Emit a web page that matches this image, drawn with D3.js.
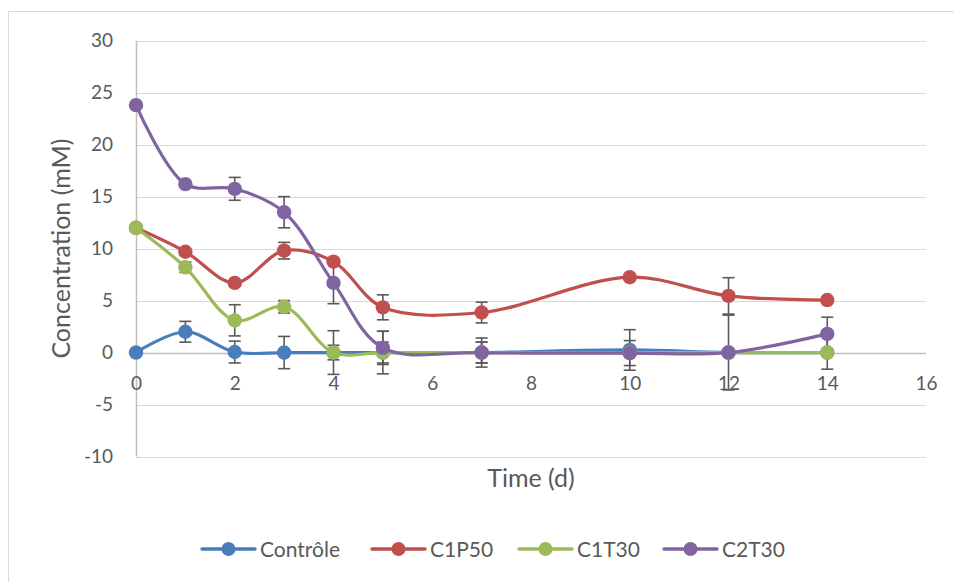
<!DOCTYPE html>
<html>
<head>
<meta charset="utf-8">
<script src="https://cdn.jsdelivr.net/npm/d3@7"></script>
<style>
  html, body { margin: 0; padding: 0; background: #fff; }
  svg { display: block; }
</style>
</head>
<body>
<svg id="chart" width="954" height="582"></svg>
<script>
// Sampling days (x) and measured concentrations (mM) with their error margins
const days = [0, 1, 2, 3, 4, 5, 7, 10, 12, 14];

const controle    = [0, 2.0, 0.05, 0.0, 0.0, 0.0, 0.0, 0.25, 0.0, 0.0];
const controleErr = [0, 1.0, 1.05, 1.55, 0.7, 1.0, 1.0, 1.95, 0, 0];

const c1p50    = [12.0, 9.7, 6.7, 9.8, 8.75, 4.35, 3.85, 7.25, 5.45, 5.05];
const c1p50Err = [0, 0, 0, 0.8, 0, 1.2, 1.0, 0, 1.75, 0];

const c1t30    = [12.0, 8.2, 3.1, 4.4, 0.0, 0.0, 0.0, 0.0, 0.0, 0.0];
const c1t30Err = [0, 0.5, 1.5, 0.6, 2.1, 2.05, 1.0, 0, 3.6, 1.6];

const c2t30    = [23.8, 16.2, 15.75, 13.5, 6.7, 0.45, 0.0, -0.05, 0.0, 1.8];
const c2t30Err = [0, 0, 1.1, 1.5, 2.0, 1.6, 1.4, 1.2, 0, 1.6];

const seriesNames  = ["Contrôle", "C1P50", "C1T30", "C2T30"];
const seriesColors = ["#4a7ebb", "#c0504d", "#9bbb59", "#8064a2"];
const seriesValues = [controle, c1p50, c1t30, c2t30];
const seriesErrors = [controleErr, c1p50Err, c1t30Err, c2t30Err];

const xTicks = [0, 2, 4, 6, 8, 10, 12, 14, 16];
const yTicks = [-10, -5, 0, 5, 10, 15, 20, 25, 30];

const xTitle = "Time (d)";
const yTitle = "Concentration (mM)";

const series = seriesNames.map((name, i) => ({
  name,
  color: seriesColors[i],
  points: days.map((d, j) => ({ x: d, y: seriesValues[i][j], e: seriesErrors[i][j] }))
}));

// Layout
const plot = { left: 136, right: 926, top: 40.7, bottom: 456.5 };
const font = "Lato, 'Open Sans', sans-serif";
const textColor = "#595959";
const plainNumber = d => String(d); // hyphen-minus, not U+2212

const svg = d3.select("#chart");

// Chart frame
svg.append("rect")
  .attr("x", 8.5).attr("y", 11.5)
  .attr("width", 960).attr("height", 600)
  .attr("fill", "none").attr("stroke", "#d9d9d9").attr("stroke-width", 1);

const x = d3.scaleLinear().domain([0, 16]).range([plot.left, plot.right]);
const y = d3.scaleLinear().domain([-10, 30]).range([plot.bottom, plot.top]);

// Horizontal gridlines
svg.append("g")
  .selectAll("line")
  .data(yTicks.filter(t => t !== 0))
  .join("line")
  .attr("x1", plot.left).attr("x2", plot.right)
  .attr("y1", d => Math.round(y(d)) + 0.5).attr("y2", d => Math.round(y(d)) + 0.5)
  .attr("stroke", "#d9d9d9").attr("stroke-width", 1);

// Y axis (left), ticks as labels only
const yAxis = d3.axisLeft(y).tickValues(yTicks).tickFormat(plainNumber).tickSize(0).tickPadding(0);
const yG = svg.append("g").attr("transform", `translate(${plot.left - 23},0)`).call(yAxis);
yG.select(".domain").remove();
yG.selectAll("text")
  .attr("font-family", font).attr("font-size", 19).attr("fill", textColor);

svg.append("line")
  .attr("x1", plot.left + 0.5).attr("x2", plot.left + 0.5)
  .attr("y1", plot.top).attr("y2", plot.bottom)
  .attr("stroke", "#bfbfbf").attr("stroke-width", 1.5);

// X axis crossing at y = 0
const y0 = Math.round(y(0)) + 0.5;
svg.append("line")
  .attr("x1", plot.left).attr("x2", plot.right)
  .attr("y1", y0).attr("y2", y0)
  .attr("stroke", "#bfbfbf").attr("stroke-width", 1.5);

const xAxis = d3.axisBottom(x).tickValues(xTicks).tickFormat(plainNumber).tickSize(0).tickPadding(0);
const xG = svg.append("g").attr("transform", `translate(0,${y0 + 23})`).call(xAxis);
xG.select(".domain").remove();
xG.selectAll("text")
  .attr("font-family", font).attr("font-size", 19).attr("fill", textColor);

// Axis titles
svg.append("text")
  .attr("x", (plot.left + plot.right) / 2).attr("y", 487)
  .attr("text-anchor", "middle")
  .attr("font-family", font).attr("font-size", 25).attr("fill", textColor)
  .text(xTitle);

svg.append("text")
  .attr("transform", `translate(70,${(plot.top + plot.bottom) / 2}) rotate(-90)`)
  .attr("text-anchor", "middle")
  .attr("font-family", font).attr("font-size", 25).attr("fill", textColor)
  .text(yTitle);

// Error bars
const capHalf = 6;
const errG = svg.append("g").attr("stroke", "#595959").attr("stroke-width", 1.6);
series.forEach(s => {
  s.points.filter(p => p.e > 0).forEach(p => {
    const cx = x(p.x), top = y(p.y + p.e), bot = y(p.y - p.e);
    errG.append("line").attr("x1", cx).attr("x2", cx).attr("y1", top).attr("y2", bot);
    errG.append("line").attr("x1", cx - capHalf).attr("x2", cx + capHalf).attr("y1", top).attr("y2", top);
    errG.append("line").attr("x1", cx - capHalf).attr("x2", cx + capHalf).attr("y1", bot).attr("y2", bot);
  });
});

// Smoothed lines and markers
const line = d3.line()
  .x(d => x(d.x)).y(d => y(d.y))
  .curve(d3.curveCatmullRom.alpha(0.5));

series.forEach(s => {
  const g = svg.append("g");
  g.append("path")
    .datum(s.points)
    .attr("d", line)
    .attr("fill", "none")
    .attr("stroke", s.color)
    .attr("stroke-width", 3.2)
    .attr("stroke-linejoin", "round")
    .attr("stroke-linecap", "round");
  g.selectAll("circle")
    .data(s.points)
    .join("circle")
    .attr("cx", d => x(d.x)).attr("cy", d => y(d.y))
    .attr("r", 7.2)
    .attr("fill", s.color);
});

// Legend
const legendItems = [
  { x1: 202, text: 260 },
  { x1: 372, text: 430 },
  { x1: 519, text: 577 },
  { x1: 664, text: 722 }
];
const legendY = 549;
const lg = svg.append("g");
series.forEach((s, i) => {
  const it = legendItems[i];
  lg.append("line")
    .attr("x1", it.x1).attr("x2", it.x1 + 53)
    .attr("y1", legendY).attr("y2", legendY)
    .attr("stroke", s.color).attr("stroke-width", 3.4).attr("stroke-linecap", "round");
  lg.append("circle")
    .attr("cx", it.x1 + 26.5).attr("cy", legendY).attr("r", 7)
    .attr("fill", s.color);
  lg.append("text")
    .attr("x", it.text).attr("y", legendY + 7.5)
    .attr("font-family", font).attr("font-size", 21).attr("fill", textColor)
    .text(s.name);
});
</script>
</body>
</html>
